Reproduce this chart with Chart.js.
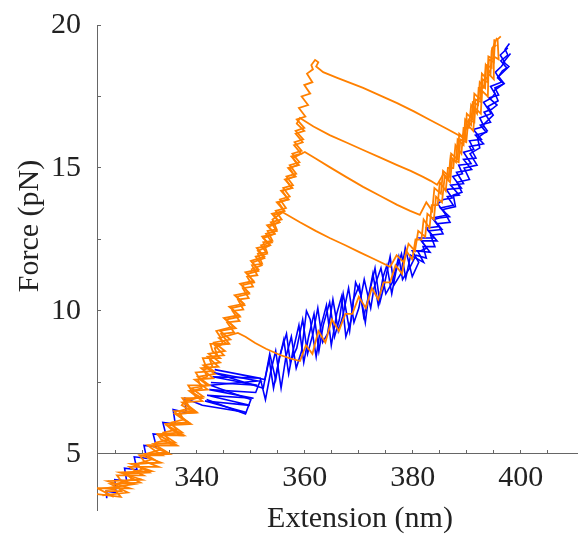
<!DOCTYPE html>
<html>
<head>
<meta charset="utf-8">
<script src="https://cdn.jsdelivr.net/npm/chart.js@4.4.1/dist/chart.umd.min.js"></script>
<style>
  html, body { margin: 0; padding: 0; background: #fff; }
  canvas { display: block; }
</style>
</head>
<body>
<canvas id="chart" width="578" height="535"></canvas>
<script>
// Axis ticks
const xTickValues = [325, 330, 335, 340, 345, 350, 355, 360, 365, 370, 375, 380, 385, 390, 395, 400, 405];
const xTickLabels = [340, 360, 380, 400];
const yTickValues = [5, 7.5, 10, 12.5, 15, 17.5, 20];
const yTickLabels = [5, 10, 15, 20];

// Pulling traces (orange): up the folded branch, rip, then up the unfolded branch
const pull1 = [
  [321.3, 3.6], [325.9, 3.5], [324.8, 3.75], [323.1, 3.8], [328.4, 3.95], [326.0, 4.05], [325.2, 4.25], [330.1, 4.25],
  [328.6, 4.4], [327.5, 4.55], [332.9, 4.55], [330.2, 4.75], [329.4, 4.95], [333.6, 4.95], [332.3, 5.1], [330.9, 5.3],
  [335.9, 5.3], [333.4, 5.5], [332.7, 5.7], [337.1, 5.65], [335.3, 5.85], [334.2, 6.05], [338.4, 6.1], [336.8, 6.3],
  [335.8, 6.5], [339.7, 6.5], [338.3, 6.7], [337.3, 6.95], [340.9, 6.95], [339.2, 7.15], [338.4, 7.4], [342.0, 7.4],
  [340.6, 7.6], [339.8, 7.85], [343.1, 7.9], [341.6, 8.1], [341.1, 8.35], [344.3, 8.35], [342.9, 8.6], [342.5, 8.85],
  [345.6, 8.85], [344.1, 9.05], [347.6, 9.23],
  [349.0, 9.1], [350.8, 8.88], [352.8, 8.68], [355.4, 8.46], [357.4, 8.33], [359.1, 8.25],
  [360.2, 8.8], [361.4, 8.5], [362.5, 9.3], [363.8, 8.9], [365.0, 9.7], [366.3, 9.3], [367.5, 9.9], [368.8, 9.9],
  [370.0, 10.5], [371.3, 10.1], [372.4, 10.8], [373.6, 10.4], [374.6, 11.0], [375.8, 11.0], [376.8, 11.6], [378.0, 11.3],
  [378.8, 12.1], [379.9, 11.8], [380.5, 12.5], [381.6, 12.5], [382.0, 13.2], [383.1, 12.9], [383.5, 13.7], [384.6, 13.7],
  [385.0, 14.5], [386.1, 14.2], [386.5, 15.0], [387.5, 15.0], [387.9, 15.8], [389.0, 15.5], [389.4, 16.4], [390.4, 16.4],
  [390.8, 17.2], [391.9, 16.9], [392.2, 17.8], [393.2, 17.8], [393.5, 18.6], [394.4, 18.3], [394.6, 19.1], [395.6, 19.55]
];
const pull2 = [
  [324.6, 3.5], [321.6, 3.8], [327.6, 3.8], [323.5, 4.05], [329.8, 4.1], [325.7, 4.35], [331.6, 4.4], [327.8, 4.65],
  [333.3, 4.7], [329.7, 4.95], [334.9, 5.0], [331.4, 5.3], [336.3, 5.3], [333.0, 5.65], [337.6, 5.65], [334.5, 6.0],
  [338.9, 6.05], [336.0, 6.4], [340.0, 6.45], [337.3, 6.8], [341.0, 6.85], [338.6, 7.2], [342.0, 7.25], [339.6, 7.6],
  [343.0, 7.65], [340.8, 8.0], [344.0, 8.05], [342.0, 8.4], [345.0, 8.45], [343.3, 8.8], [346.0, 8.85], [344.5, 9.2],
  [346.9, 9.25], [345.6, 9.6], [347.9, 9.65], [346.6, 10.0], [348.6, 10.05], [347.6, 10.4], [349.6, 10.45], [348.5, 10.8],
  [350.4, 10.85], [349.3, 11.2], [351.2, 11.25], [350.2, 11.6], [352.1, 11.65], [351.3, 12.0], [353.0, 12.05], [352.3, 12.4],
  [354.0, 12.45], [353.1, 12.8], [354.8, 12.85], [354.0, 13.2], [355.9, 13.45],
  [359.1, 13.1], [362.0, 12.8], [364.6, 12.55], [367.5, 12.3], [370.2, 12.05], [373.0, 11.8], [375.8, 11.54],
  [377.0, 11.95], [378.3, 11.7], [379.2, 12.35], [380.4, 12.1], [381.0, 12.8], [382.3, 12.6], [382.7, 13.4], [383.9, 13.2],
  [384.3, 14.0], [385.4, 13.8], [385.9, 14.7], [386.9, 14.5], [387.3, 15.3], [388.5, 15.2], [388.8, 16.0], [389.9, 15.9],
  [390.3, 16.7], [391.4, 16.6], [391.6, 17.4], [392.7, 17.3], [392.9, 18.1], [393.9, 18.0], [394.1, 18.8], [395.0, 18.7],
  [395.2, 19.4]
];
const pull3 = [
  [322.5, 3.55], [327.2, 3.65], [324.0, 3.95], [329.5, 4.0], [326.6, 4.3], [331.2, 4.35], [328.5, 4.65], [333.0, 4.7],
  [330.4, 5.0], [334.6, 5.05], [332.0, 5.35], [336.0, 5.4], [333.6, 5.7], [337.3, 5.75], [335.1, 6.05], [338.5, 6.1],
  [336.4, 6.4], [339.6, 6.45], [337.2, 6.7],
  [338.0, 6.9], [341.2, 7.0], [339.0, 7.3], [342.3, 7.4], [340.2, 7.7], [343.3, 7.8], [341.2, 8.1], [344.3, 8.2],
  [342.2, 8.5], [345.2, 8.6], [343.2, 8.9], [346.2, 9.0], [344.3, 9.3], [347.2, 9.4], [345.4, 9.7], [348.0, 9.8],
  [346.4, 10.1], [348.8, 10.2], [347.4, 10.5], [349.7, 10.6], [348.4, 10.9], [350.6, 11.0], [349.4, 11.3], [351.4, 11.4],
  [350.3, 11.7], [352.5, 11.85], [351.3, 12.1], [353.6, 12.3], [352.3, 12.55], [354.4, 12.7], [353.3, 12.95], [355.3, 13.1],
  [354.3, 13.35], [356.2, 13.5], [355.1, 13.8], [356.9, 13.9], [355.8, 14.2], [357.5, 14.3], [356.5, 14.6], [358.1, 14.7],
  [357.2, 15.0], [358.7, 15.1], [357.8, 15.35], [360.0, 15.56],
  [362.0, 15.33], [364.6, 15.03], [367.7, 14.68], [370.8, 14.34], [374.0, 14.02], [377.1, 13.71], [379.5, 13.5], [381.3, 13.36],
  [382.5, 13.8], [383.6, 13.5], [384.0, 14.3], [385.2, 14.1], [385.6, 14.9], [386.8, 14.7], [387.1, 15.5], [388.3, 15.3],
  [388.6, 16.2], [389.7, 16.0], [390.0, 16.9], [391.1, 16.7], [391.4, 17.6], [392.5, 17.4], [392.8, 18.3], [393.8, 18.1],
  [394.0, 18.9], [395.0, 18.8], [395.1, 19.5]
];
const pull4 = [
  [323.0, 3.7], [326.0, 3.7], [325.0, 3.95], [328.0, 4.1], [327.2, 4.3], [329.8, 4.45], [329.0, 4.65], [331.5, 4.8],
  [330.6, 5.0], [333.2, 5.15], [332.4, 5.4], [334.7, 5.5], [333.8, 5.75], [336.2, 5.85], [335.3, 6.1], [337.5, 6.2],
  [336.7, 6.5], [338.7, 6.6], [338.0, 6.85], [339.9, 6.95], [339.2, 7.2], [340.9, 7.3], [340.2, 7.6], [341.9, 7.7],
  [341.3, 7.95], [342.9, 8.05], [342.4, 8.3], [343.8, 8.45], [343.3, 8.7], [344.8, 8.85], [344.3, 9.1],
  [343.6, 9.3], [346.8, 9.45], [345.0, 9.75], [347.8, 9.85], [346.0, 10.15], [348.7, 10.25], [347.0, 10.55], [349.6, 10.65],
  [348.0, 10.95], [350.5, 11.05], [349.0, 11.35], [351.4, 11.45], [350.0, 11.75], [352.5, 11.9], [351.1, 12.2], [353.5, 12.3],
  [352.1, 12.6], [354.4, 12.7], [353.0, 13.0], [355.3, 13.1], [353.9, 13.4], [356.2, 13.5], [354.8, 13.8], [357.0, 13.9],
  [355.6, 14.2], [357.7, 14.3], [356.3, 14.6], [358.3, 14.7], [356.9, 15.0], [358.9, 15.1], [357.5, 15.4], [359.3, 15.5],
  [358.0, 15.8], [359.6, 15.9], [358.3, 16.2], [359.9, 16.3], [358.5, 16.55], [359.1, 16.75],
  [361.6, 16.45], [364.6, 16.15], [367.7, 15.89], [370.8, 15.63], [374.0, 15.36], [377.1, 15.1], [379.6, 14.9], [381.9, 14.69],
  [383.3, 14.55], [384.5, 14.41],
  [385.7, 14.8], [386.6, 14.6], [387.0, 15.4], [388.0, 15.2], [388.3, 16.0], [389.4, 15.8], [389.7, 16.7], [390.8, 16.5],
  [391.1, 17.3], [392.1, 17.2], [392.4, 18.0], [393.4, 17.8], [393.6, 18.6], [394.6, 18.5], [394.7, 19.2], [395.5, 19.3]
];
const pull5 = [
  [350.0, 11.45], [352.0, 11.6], [350.9, 11.9], [353.0, 12.0], [351.9, 12.3], [353.9, 12.4], [352.8, 12.7], [354.8, 12.8],
  [353.7, 13.1], [355.7, 13.2], [354.6, 13.5], [356.5, 13.6], [355.4, 13.9], [357.2, 14.0], [356.0, 14.3], [357.8, 14.4],
  [356.6, 14.7], [358.4, 14.8], [357.2, 15.1], [359.0, 15.2], [357.7, 15.5], [359.4, 15.6], [358.1, 15.9], [359.7, 16.0],
  [358.3, 16.3], [359.9, 16.4], [358.5, 16.7], [360.1, 16.8], [358.9, 17.1], [360.6, 17.2], [359.4, 17.5], [361.0, 17.6],
  [359.9, 17.9], [361.4, 18.0], [360.4, 18.3], [361.5, 18.45], [361.2, 18.6], [361.9, 18.78], [362.5, 18.7], [362.1, 18.55],
  [363.4, 18.35],
  [366.0, 18.15], [370.8, 17.8], [374.0, 17.53], [377.1, 17.27], [380.2, 16.98], [383.2, 16.68], [386.2, 16.38], [389.1, 16.08],
  [390.2, 16.5], [391.2, 16.3], [391.5, 17.1], [392.6, 16.9], [392.8, 17.7], [393.9, 17.5], [394.0, 18.3], [395.0, 18.1],
  [395.0, 18.9], [395.9, 18.8], [395.7, 19.5], [396.3, 19.6]
];

// Relaxing traces (blue): down the unfolded branch, refolding jumps, down the folded branch
const relax1 = [
  [397.9, 19.35], [397.1, 19.15], [397.6, 18.95], [396.3, 18.75], [397.4, 18.5], [396.6, 18.4], [395.7, 18.15], [396.9, 17.95],
  [395.2, 17.8], [395.9, 17.55], [394.1, 17.45], [395.6, 17.2], [394.6, 17.05], [393.2, 16.95], [394.4, 16.6], [392.5, 16.5],
  [393.6, 16.25], [391.6, 16.15], [393.1, 15.85], [391.9, 15.8], [390.5, 15.75], [391.7, 15.35], [389.4, 15.3], [390.9, 14.95],
  [389.6, 14.9], [388.1, 14.85], [389.4, 14.45], [387.0, 14.4], [388.6, 14.05], [386.4, 14.0], [387.5, 13.7], [385.1, 13.6],
  [386.8, 13.3], [384.9, 13.25], [383.9, 13.2], [385.4, 12.85], [382.9, 12.8], [384.5, 12.45], [381.6, 12.45], [383.2, 12.05],
  [380.9, 12.1], [382.0, 11.7], [379.6, 11.95],
  [378.7, 11.15], [377.9, 12.0], [376.9, 11.4], [376.1, 10.6], [375.2, 11.6], [374.5, 11.2], [373.6, 10.2], [372.6, 11.3],
  [371.9, 10.6], [370.9, 9.8], [370.1, 10.9], [369.0, 10.4], [368.3, 9.3], [367.1, 10.6], [366.4, 9.7], [365.5, 9.1],
  [364.6, 10.3], [363.4, 9.5], [362.6, 8.6], [361.7, 9.9], [360.7, 9.1], [359.8, 8.2], [358.9, 9.5], [357.8, 8.6],
  [357.0, 7.8], [356.1, 9.0], [355.0, 8.1], [354.2, 7.3], [353.4, 8.3], [352.6, 7.6],
  [343.3, 7.95], [351.8, 7.65], [342.9, 7.7], [351.2, 7.4], [342.6, 7.5]
];
const relax2 = [
  [397.6, 19.2], [396.2, 18.95], [397.0, 18.7], [396.4, 18.55], [395.3, 18.35], [396.4, 18.0], [394.4, 17.85], [395.2, 17.6],
  [394.6, 17.45], [393.1, 17.3], [394.5, 16.9], [392.4, 16.75], [393.2, 16.45], [391.2, 16.35], [392.7, 16.0], [390.5, 15.95],
  [391.3, 15.65], [389.4, 15.55], [390.8, 15.15], [388.5, 15.1], [389.2, 14.8], [387.4, 14.7], [389.0, 14.3], [386.2, 14.25],
  [387.3, 13.95], [385.7, 13.9], [384.6, 13.75], [386.2, 13.35], [383.6, 13.25], [384.8, 12.95], [382.5, 12.9], [384.0, 12.55],
  [381.2, 12.55], [382.6, 12.2], [381.4, 12.1], [379.9, 12.1], [381.1, 11.7],
  [379.9, 11.2], [378.6, 12.2], [377.8, 11.3], [376.5, 10.9], [375.8, 11.9], [374.7, 10.9], [373.9, 10.3], [373.0, 11.5],
  [371.8, 10.5], [371.2, 9.6], [370.3, 10.6], [369.4, 11.0], [368.6, 9.7], [367.6, 9.1], [366.8, 10.5], [365.9, 9.9],
  [364.9, 8.8], [364.0, 10.2], [362.9, 9.4], [362.1, 8.4], [361.0, 9.7], [360.3, 10.0], [359.4, 8.6], [358.4, 8.0],
  [357.5, 9.1], [356.5, 8.4], [355.6, 7.3], [354.6, 8.6], [353.7, 7.9], [352.7, 6.9], [351.8, 7.6],
  [350.9, 7.15], [342.3, 7.25], [350.5, 6.95], [341.9, 7.05], [349.8, 6.7], [341.5, 6.85], [349.2, 6.45], [341.0, 6.7],
  [337.8, 6.95], [338.0, 6.45], [335.6, 6.55], [336.0, 6.05], [333.7, 6.1], [334.3, 5.65], [331.9, 5.7], [332.5, 5.25],
  [330.2, 5.3], [330.7, 4.85], [328.4, 4.9], [328.9, 4.45], [326.6, 4.5], [327.0, 4.05], [324.8, 4.1], [325.0, 3.65],
  [323.2, 3.7], [323.3, 3.45]
];
const relax3 = [
  [398.1, 19.0], [396.8, 18.7], [397.8, 18.55], [395.9, 18.2], [396.9, 17.95], [395.0, 17.7], [395.8, 17.35], [393.9, 17.15],
  [394.9, 16.85], [393.0, 16.5], [393.8, 16.3], [392.0, 16.05], [392.4, 15.7], [390.6, 15.5], [391.9, 15.1], [389.5, 15.0],
  [390.5, 14.6], [388.2, 14.5], [389.1, 14.15], [387.5, 14.05], [387.9, 13.65], [385.6, 13.55], [386.9, 13.1], [384.6, 13.05],
  [385.6, 12.7], [383.3, 12.65], [384.1, 12.25], [381.9, 12.25], [382.5, 11.85], [380.6, 11.95],
  [379.4, 11.5], [378.1, 11.1], [377.4, 11.9], [376.2, 11.0], [375.0, 10.6], [374.1, 11.5], [372.8, 10.8], [372.2, 10.1],
  [371.0, 11.1], [370.0, 10.1], [369.1, 9.6], [368.1, 10.8], [367.0, 9.8], [366.2, 9.3], [365.2, 10.4], [364.2, 9.2],
  [363.3, 8.9], [362.4, 10.1], [361.5, 9.2], [360.5, 8.5], [359.6, 9.7], [358.5, 8.7], [357.3, 8.2], [356.6, 9.2],
  [355.3, 8.4], [354.6, 7.6], [353.5, 8.5], [352.3, 7.3],
  [343.0, 7.85], [351.3, 7.55], [342.5, 7.4], [350.0, 6.9], [349.0, 6.4], [341.8, 6.9]
];

const pullTraces = [pull1, pull2, pull3, pull4, pull5];
const relaxTraces = [relax1, relax2, relax3];

const orange = "#ff8000";
const blue = "#0000ff";
const axisColor = "#666666";
const textColor = "#222222";
const serif = "'Liberation Serif', 'Times New Roman', serif";

function traceDataset(trace, color, width) {
  return {
    data: trace.map(([x, y]) => ({ x, y })),
    showLine: true,
    borderColor: color,
    borderWidth: width,
    pointRadius: 0,
    tension: 0,
    fill: false,
  };
}

// Axis titles drawn on the canvas
const axisTitles = {
  id: "axisTitles",
  afterDraw(chart) {
    const ctx = chart.ctx;
    ctx.save();
    ctx.fillStyle = textColor;
    ctx.font = "30px " + serif;
    ctx.textAlign = "center";
    ctx.textBaseline = "alphabetic";
    ctx.fillText("Extension (nm)", 360, 527);
    ctx.translate(38, 226);
    ctx.rotate(-Math.PI / 2);
    ctx.fillText("Force (pN)", 0, 0);
    ctx.restore();
  },
};

new Chart(document.getElementById("chart"), {
  type: "scatter",
  data: {
    // orange first so it is painted on top of the blue
    datasets: [
      ...pullTraces.map((t) => traceDataset(t, orange, 1.8)),
      ...relaxTraces.map((t) => traceDataset(t, blue, 1.6)),
    ],
  },
  options: {
    responsive: false,
    animation: false,
    events: [],
    layout: { padding: { top: 25, right: 0, bottom: 25, left: 0 } },
    plugins: { legend: { display: false }, tooltip: { enabled: false } },
    scales: {
      x: {
        type: "linear",
        min: 321.5,
        max: 410.6,
        position: { y: 5 },
        afterBuildTicks: (axis) => { axis.ticks = xTickValues.map((v) => ({ value: v })); },
        afterFit: (axis) => { axis.height = 0; axis.paddingLeft = 0; axis.paddingRight = 0; },
        ticks: {
          autoSkip: false,
          maxRotation: 0,
          padding: 10,
          color: textColor,
          font: { family: serif, size: 30 },
          callback: (v) => (xTickLabels.includes(v) ? String(v) : ""),
        },
        grid: { drawOnChartArea: false, drawTicks: true, tickLength: -4, color: axisColor },
        border: { color: axisColor, width: 1 },
      },
      y: {
        type: "linear",
        min: 3.04,
        max: 20,
        position: "left",
        afterBuildTicks: (axis) => { axis.ticks = yTickValues.map((v) => ({ value: v })); },
        afterFit: (axis) => { axis.width = 97; axis.paddingTop = 0; axis.paddingBottom = 0; },
        ticks: {
          autoSkip: false,
          padding: 20,
          color: textColor,
          font: { family: serif, size: 30 },
          callback: (v) => (yTickLabels.includes(v) ? String(v) : ""),
        },
        grid: { drawOnChartArea: false, drawTicks: true, tickLength: -4, color: axisColor },
        border: { color: axisColor, width: 1 },
      },
    },
  },
  plugins: [axisTitles],
});
</script>
</body>
</html>
